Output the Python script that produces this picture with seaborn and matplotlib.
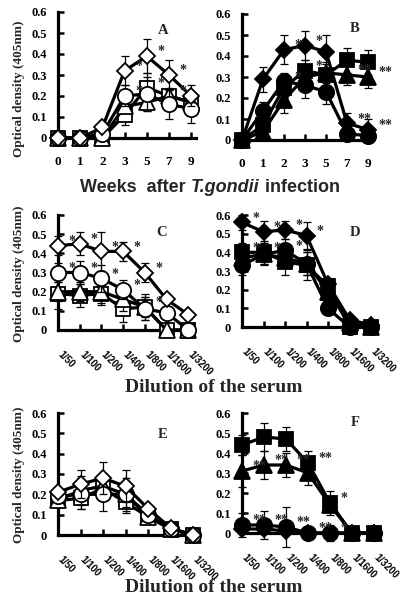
import matplotlib
matplotlib.use("Agg")
import matplotlib.pyplot as plt
from matplotlib.transforms import ScaledTranslation
import seaborn as sns

W, H = 412, 602

weeks = ["0", "1", "2", "3", "5", "7", "9"]
dilutions = ["1/50", "1/100", "1/200", "1/400", "1/800", "1/1600", "1/3200"]

# Panel A: weeks after infection, open markers
a_diamond = [0, 0, 0.05, 0.32, 0.39, 0.30, 0.20]
a_diamond_err = [0, 0, 0, 0.07, 0.08, 0.07, 0.05]
a_square = [0, 0, 0.0, 0.11, 0.24, 0.20, 0.17]
a_square_err = [0, 0, 0, 0.05, 0.07, 0.03, 0.03]
a_triangle = [0, 0, 0.0, 0.15, 0.17, 0.20, 0.17]
a_triangle_err = [0, 0, 0, 0.03, 0.04, 0.04, 0.03]
a_circle = [0, 0, 0.02, 0.20, 0.21, 0.16, 0.14]
a_circle_err = [0, 0, 0, 0.05, 0.08, 0.07, 0.07]

# Panel B: weeks after infection, filled markers
b_diamond = [0, 0.29, 0.43, 0.45, 0.42, 0.08, 0.05]
b_diamond_err = [0, 0.06, 0.07, 0.07, 0.08, 0.05, 0.05]
b_square = [0, 0.07, 0.25, 0.33, 0.31, 0.38, 0.37]
b_square_err = [0, 0.05, 0.05, 0.05, 0.05, 0.06, 0.06]
b_triangle = [0, 0.04, 0.19, 0.30, 0.32, 0.31, 0.30]
b_triangle_err = [0, 0.04, 0.06, 0.05, 0.05, 0.05, 0.05]
b_circle = [0, 0.14, 0.28, 0.26, 0.23, 0.03, 0.02]
b_circle_err = [0, 0.04, 0.04, 0.06, 0.06, 0.03, 0.03]

# Panel C: serum dilution, open markers
c_diamond = [0.44, 0.45, 0.41, 0.41, 0.30, 0.16, 0.08]
c_diamond_err = [0.05, 0.06, 0.10, 0.05, 0.05, 0.02, 0.02]
c_square = [0.19, 0.18, 0.19, 0.11, 0.12, 0.0, 0.0]
c_square_err = [0.08, 0.06, 0.06, 0.07, 0.05, 0, 0]
c_triangle = [0.20, 0.20, 0.20, 0.16, 0.12, 0.0, 0.0]
c_triangle_err = [0.05, 0.05, 0.06, 0.06, 0.07, 0, 0]
c_circle = [0.30, 0.30, 0.27, 0.21, 0.11, 0.09, 0.0]
c_circle_err = [0.05, 0.06, 0.07, 0.05, 0.06, 0.02, 0]

# Panel D: serum dilution, filled markers
d_diamond = [0.56, 0.51, 0.52, 0.49, 0.23, 0.04, 0.01]
d_diamond_err = [0.04, 0.06, 0.05, 0.07, 0.03, 0.02, 0.02]
d_square = [0.40, 0.40, 0.35, 0.33, 0.22, 0.0, 0.0]
d_square_err = [0.05, 0.06, 0.07, 0.08, 0.03, 0, 0]
d_triangle = [0.37, 0.39, 0.37, 0.34, 0.19, 0.02, 0.0]
d_triangle_err = [0.04, 0.05, 0.05, 0.06, 0.03, 0.01, 0]
d_circle = [0.33, 0.39, 0.41, 0.34, 0.10, 0.0, 0.0]
d_circle_err = [0.05, 0.06, 0.06, 0.06, 0.02, 0, 0]

# Panel E: serum dilution, open markers
e_diamond = [0.21, 0.25, 0.28, 0.24, 0.13, 0.035, 0.0]
e_diamond_err = [0.02, 0.07, 0.08, 0.08, 0.02, 0.01, 0]
e_square = [0.17, 0.18, 0.23, 0.16, 0.09, 0.03, 0.0]
e_square_err = [0.02, 0.05, 0.05, 0.05, 0.02, 0.01, 0]
e_triangle = [0.17, 0.22, 0.24, 0.20, 0.09, 0.03, 0.0]
e_triangle_err = [0.02, 0.07, 0.05, 0.08, 0.02, 0.01, 0]
e_circle = [0.19, 0.20, 0.20, 0.20, 0.10, 0.03, 0.0]
e_circle_err = [0.02, 0.07, 0.08, 0.06, 0.02, 0.01, 0]

# Panel F: serum dilution, filled markers
f_diamond = [0.02, 0.02, 0.01, 0.0, 0.0, 0.0, 0.0]
f_diamond_err = [0, 0, 0, 0, 0, 0, 0]
f_square = [0.44, 0.48, 0.47, 0.35, 0.15, 0.0, 0.0]
f_square_err = [0.05, 0.07, 0.06, 0.06, 0.06, 0, 0]
f_triangle = [0.31, 0.34, 0.34, 0.30, 0.14, 0.0, 0.0]
f_triangle_err = [0.08, 0.07, 0.06, 0.06, 0.03, 0, 0]
f_circle = [0.04, 0.04, 0.03, 0.0, 0.0, 0.0, 0.0]
f_circle_err = [0.06, 0.07, 0.10, 0.03, 0.04, 0, 0]

# significance marks: (series, index, text)
stars_a = [("diamond", 3, "*"), ("diamond", 4, "*"), ("diamond", 5, "*"),
           ("circle", 3, "*"), ("square", 4, "*"), ("triangle", 5, "*")]
stars_b = [("diamond", 2, "*"), ("diamond", 3, "*"), ("square", 3, "*"), ("circle", 2, "*"),
           ("triangle", 5, "**"), ("triangle", 6, "**"), ("diamond", 5, "**"), ("diamond", 6, "**")]
stars_c = [("diamond", i, "*") for i in range(5)] + [("circle", i, "*") for i in range(4)] + [("triangle", 4, "*")]
stars_d = [("diamond", i, "*") for i in range(4)] + [("square", 0, "*"), ("square", 1, "*"), ("circle", 2, "*")]
stars_e = []
stars_f = [("triangle", 0, "**"), ("triangle", 1, "**"), ("triangle", 2, "**"), ("square", 3, "**"),
           ("square", 4, "*"), ("circle", 0, "**"), ("circle", 1, "**"), ("circle", 2, "**"),
           ("circle", 3, "**"), ("circle", 4, "*")]

SERIF = ["Liberation Serif", "DejaVu Serif"]
SANS = ["Liberation Sans", "DejaVu Sans"]

sns.set_theme(style="ticks")
plt.rcParams["font.family"] = SERIF
plt.rcParams["font.weight"] = "bold"

MARKERS = {"diamond": ("D", 8.5), "square": ("s", 10.5), "triangle": ("^", 11), "circle": ("o", 11)}


def panel(fig, rect_px, letter, letter_xy, series, errs, stars, filled, order, xlabels, ylabel_y=None):
    x0, step, y0, ytop = rect_px
    xr = 6.2
    ax = fig.add_axes([x0 / W, (H - y0) / H, xr * step / W, (y0 - ytop) / H])
    ax.set_facecolor("none")
    xs = list(range(7))
    for z, name in enumerate(order):
        m, ms = MARKERS[name]
        ax.errorbar(xs, series[name], yerr=errs[name], fmt="none", ecolor="black",
                    elinewidth=0.9, capsize=2.8, capthick=0.9, zorder=2 + 2 * z, clip_on=False)
        sns.lineplot(x=xs, y=series[name], ax=ax, color="black", lw=2.3, marker=m, markersize=ms,
                     markerfacecolor="black" if filled else "white", markeredgecolor="black",
                     markeredgewidth=1.3, zorder=3 + 2 * z, clip_on=False, legend=False)
    for name, i, txt in stars:
        ax.annotate(txt, (i, series[name][i]), xytext=(7.5, 3), textcoords="offset points",
                    ha="left", va="center", fontsize=10, fontweight="bold", zorder=20)
    ax.set_xlim(0, xr)
    ax.set_ylim(0, 0.6)
    ax.set_yticks([0, 0.1, 0.2, 0.3, 0.4, 0.5, 0.6])
    ax.set_yticklabels(["0", "0.1", "0.2", "0.3", "0.4", "0.5", "0.6"])
    ax.set_xlabel("")
    ax.set_ylabel("")
    for s in ["top", "right"]:
        ax.spines[s].set_visible(False)
    for s in ["left", "bottom"]:
        ax.spines[s].set_linewidth(2.3)
        ax.spines[s].set_color("black")
    ax.tick_params(axis="both", direction="in", length=4, width=1.8, colors="black")
    ax.tick_params(axis="y", pad=8, labelsize=9)
    ax.set_xticks(xs)
    if xlabels is weeks:
        ax.tick_params(axis="x", pad=13, labelsize=9.5)
        ax.set_xticklabels(xlabels, fontweight="bold")
    else:
        ax.set_xticklabels(xlabels, rotation=-45, ha="left", va="top", rotation_mode="anchor",
                           family=SANS, fontweight="bold", fontsize=7)
        off = ScaledTranslation(5 / 100, -14 / 100, fig.dpi_scale_trans)
        for lbl in ax.get_xticklabels():
            lbl.set_transform(lbl.get_transform() + off)
    for lbl in ax.get_yticklabels():
        lbl.set_fontweight("bold")
    fig.text(letter_xy[0] / W, 1 - letter_xy[1] / H, letter, ha="center", va="center",
             fontsize=10.5, fontweight="bold")
    if ylabel_y is not None:
        fig.text(19 / W, 1 - ylabel_y / H, "Optical density (405nm)", rotation=90,
                 ha="center", va="center", fontsize=9.5, fontweight="bold")
    return ax


def pack(d, s, t, c):
    return {"diamond": d, "square": s, "triangle": t, "circle": c}


fig = plt.figure(figsize=(W / 100, H / 100), dpi=100)
fig.patch.set_facecolor("white")

panel(fig, (58, 22.2, 138, 12), "A", (163, 30),
      pack(a_diamond, a_square, a_triangle, a_circle),
      pack(a_diamond_err, a_square_err, a_triangle_err, a_circle_err),
      stars_a, False, ["square", "triangle", "circle", "diamond"], weeks, ylabel_y=89)
panel(fig, (242, 21.0, 140, 14), "B", (355, 28),
      pack(b_diamond, b_square, b_triangle, b_circle),
      pack(b_diamond_err, b_square_err, b_triangle_err, b_circle_err),
      stars_b, True, ["circle", "triangle", "square", "diamond"], weeks)
panel(fig, (58, 21.7, 330, 215), "C", (162, 233),
      pack(c_diamond, c_square, c_triangle, c_circle),
      pack(c_diamond_err, c_square_err, c_triangle_err, c_circle_err),
      stars_c, False, ["square", "triangle", "circle", "diamond"], dilutions, ylabel_y=274)
panel(fig, (242, 21.5, 327, 215), "D", (355, 233),
      pack(d_diamond, d_square, d_triangle, d_circle),
      pack(d_diamond_err, d_square_err, d_triangle_err, d_circle_err),
      stars_d, True, ["triangle", "square", "circle", "diamond"], dilutions)
panel(fig, (58, 22.5, 535, 413), "E", (163, 435),
      pack(e_diamond, e_square, e_triangle, e_circle),
      pack(e_diamond_err, e_square_err, e_triangle_err, e_circle_err),
      stars_e, False, ["square", "triangle", "circle", "diamond"], dilutions, ylabel_y=475)
panel(fig, (242, 22.0, 533, 413), "F", (355, 423),
      pack(f_diamond, f_square, f_triangle, f_circle),
      pack(f_diamond_err, f_square_err, f_triangle_err, f_circle_err),
      stars_f, True, ["diamond", "circle", "triangle", "square"], dilutions)

# "Weeks  after T.gondii infection" with the species name in italics
renderer = fig.canvas.get_renderer()
parts = [("Weeks  after ", "normal"), ("T.gondii", "italic"), (" infection", "normal")]
texts = []
for s, style in parts:
    texts.append(fig.text(0, 1 - 188 / H, s, ha="left", va="center", fontsize=13,
                          fontweight="bold", style=style, family=SANS))
widths = [t.get_window_extent(renderer).width for t in texts]
x = 210 - sum(widths) / 2
for t, w in zip(texts, widths):
    t.set_x(x / W)
    x += w

for y in (387, 587):
    fig.text(214 / W, 1 - y / H, "Dilution of the serum", ha="center", va="center",
             fontsize=14, fontweight="bold")

fig.savefig("out.png", dpi=100)
